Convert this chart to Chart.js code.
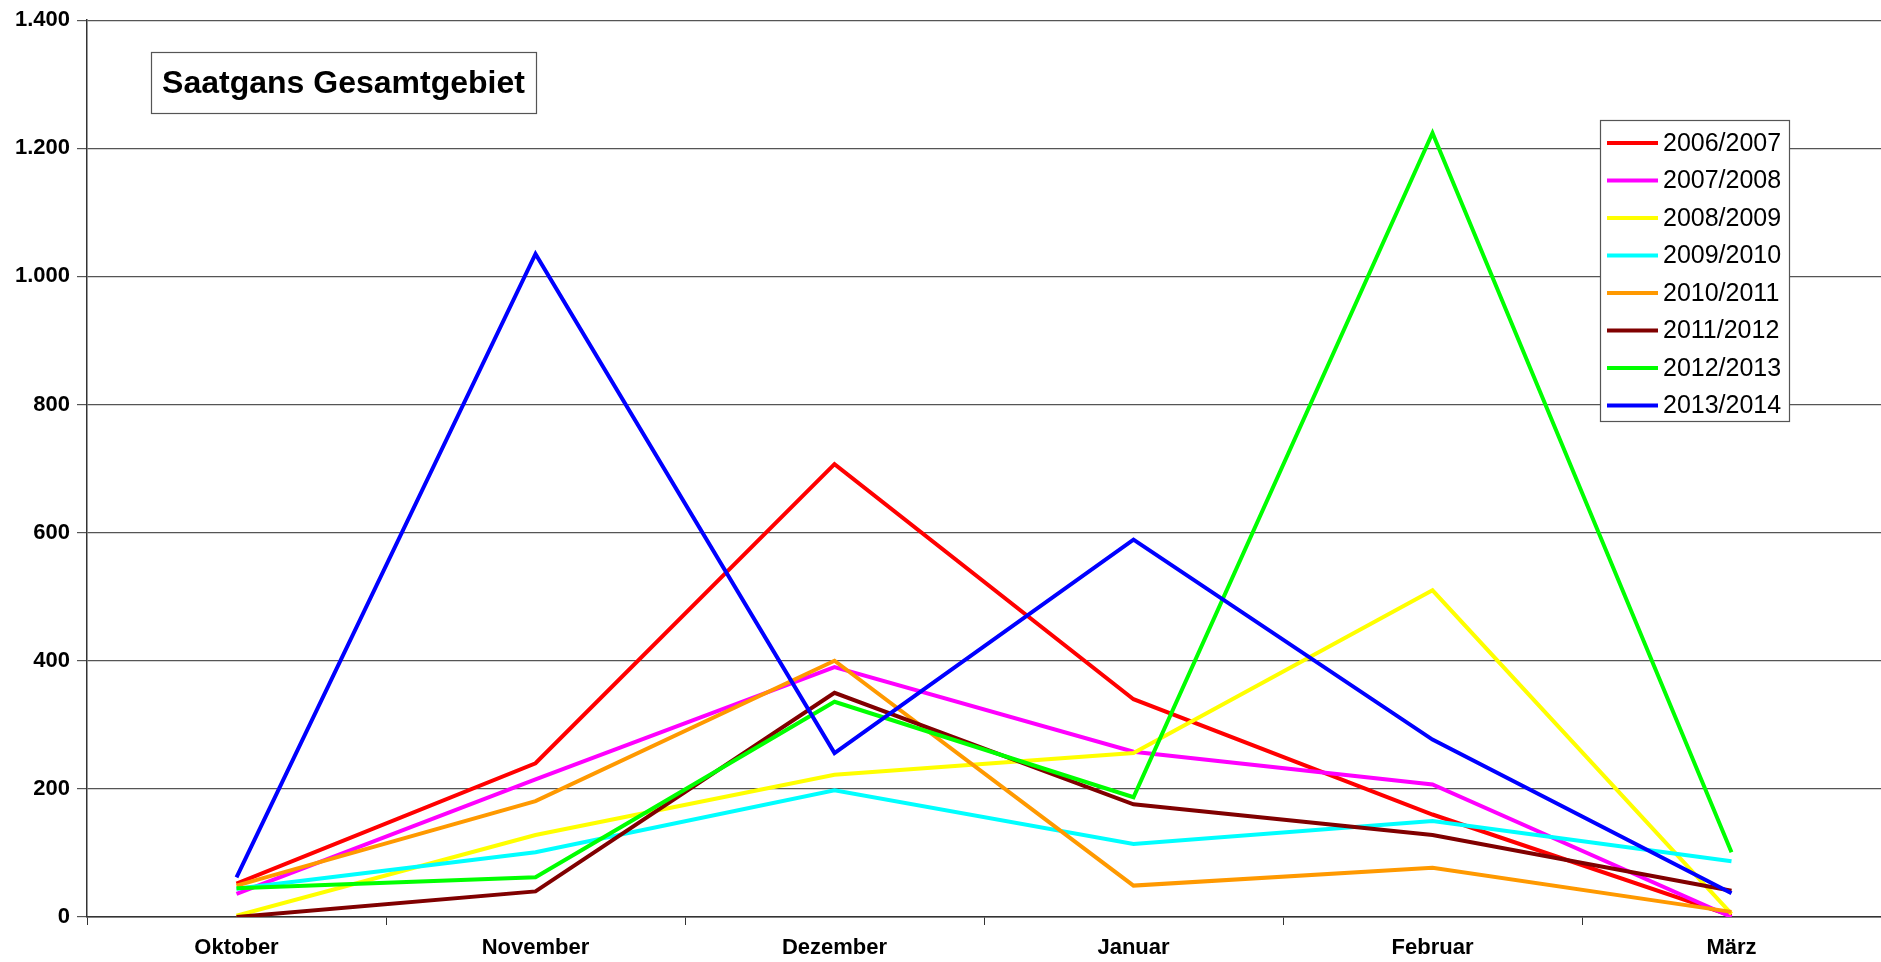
<!DOCTYPE html>
<html>
<head>
<meta charset="utf-8">
<title>Saatgans Gesamtgebiet</title>
<script src="https://cdn.jsdelivr.net/npm/chart.js@4/dist/chart.umd.min.js"></script>
<style>
    html, body { margin: 0; padding: 0; background: #fff; overflow: hidden; }
    canvas { display: block; }
</style>
</head>
<body>
<canvas id="chart" width="1881" height="962"></canvas>
<script>
const months = ['Oktober', 'November', 'Dezember', 'Januar', 'Februar', 'März'];
const seasons = ['2006/2007', '2007/2008', '2008/2009', '2009/2010', '2010/2011', '2011/2012', '2012/2013', '2013/2014'];

const s2006 = [52, 240, 707, 340, 160, 2];
const s2007 = [36, 215, 390, 258, 207, 0];
const s2008 = [2, 128, 222, 256, 510, 5];
const s2009 = [44, 101, 198, 114, 150, 87];
const s2010 = [49, 181, 400, 49, 77, 8];
const s2011 = [0, 40, 350, 176, 128, 41];
const s2012 = [45, 62, 336, 187, 1224, 101];
const s2013 = [62, 1035, 256, 589, 277, 37];

const yTicks = [0, 200, 400, 600, 800, 1000, 1200, 1400];

const seriesValues = [s2006, s2007, s2008, s2009, s2010, s2011, s2012, s2013];
const colors = ['#ff0000', '#ff00ff', '#ffff00', '#00ffff', '#ff9900', '#800000', '#00ff00', '#0000ff'];
const FONT = '"Liberation Sans", Arial, Helvetica, sans-serif';

function fmt(v) {
    return String(v).replace(/\B(?=(\d{3})+(?!\d))/g, '.');
}

// title box + legend box, both drawn on top of the plot
const boxes = {
    id: 'boxes',
    afterDraw(chart) {
        const ctx = chart.ctx;
        ctx.save();

        // title
        ctx.fillStyle = '#fff';
        ctx.fillRect(151, 52, 385, 61);
        ctx.strokeStyle = '#555';
        ctx.lineWidth = 1.2;
        ctx.strokeRect(151.5, 52.5, 385, 61);
        ctx.fillStyle = '#000';
        ctx.font = 'bold 32px ' + FONT;
        ctx.textAlign = 'center';
        ctx.textBaseline = 'middle';
        ctx.fillText('Saatgans Gesamtgebiet', 343.5, 84);

        // legend
        ctx.fillStyle = '#fff';
        ctx.fillRect(1600, 120, 189, 301);
        ctx.strokeRect(1600.5, 120.5, 189, 301);
        ctx.font = '25px ' + FONT;
        ctx.textAlign = 'left';
        chart.data.datasets.forEach((ds, i) => {
            const y = 143 + i * 37.5;
            ctx.strokeStyle = ds.borderColor;
            ctx.lineWidth = 4;
            ctx.beginPath();
            ctx.moveTo(1607, y);
            ctx.lineTo(1658, y);
            ctx.stroke();
            ctx.fillStyle = '#000';
            ctx.fillText(ds.label, 1663, y + 1);
        });
        ctx.restore();
    }
};

const config = {
    type: 'line',
    data: {
        labels: months,
        datasets: seasons.map((label, i) => ({
            label: label,
            data: seriesValues[i],
            borderColor: colors[i],
            backgroundColor: colors[i],
            borderWidth: 4,
            pointRadius: 0,
            tension: 0,
            fill: false,
            order: seasons.length - i,
        })),
    },
    plugins: [boxes],
    options: {
        responsive: false,
        animation: false,
        layout: {
            padding: { top: 18, right: 0, bottom: 0, left: 0 }
        },
        plugins: {
            legend: { display: false },
            tooltip: { enabled: false },
        },
        scales: {
            x: {
                offset: true,
                afterFit: (scale) => { scale.height = 45; },
                grid: {
                    offset: true,
                    drawOnChartArea: false,
                    tickLength: 8,
                    color: '#333',
                },
                border: { color: '#333', width: 1.5 },
                ticks: {
                    color: '#000',
                    padding: 10,
                    maxRotation: 0,
                    font: { family: FONT, size: 22, weight: 'bold' },
                },
            },
            y: {
                min: 0,
                max: 1400,
                afterFit: (scale) => { scale.width = 87; },
                afterBuildTicks: (scale) => { scale.ticks = yTicks.map(v => ({ value: v })); },
                grid: {
                    color: '#555',
                    lineWidth: 1.2,
                    tickLength: 10,
                },
                border: { color: '#333', width: 1.5 },
                ticks: {
                    color: '#000',
                    padding: 7,
                    callback: (v) => fmt(v),
                    font: { family: FONT, size: 22, weight: 'bold' },
                },
            },
        },
    },
};

const myChart = new Chart(document.getElementById('chart').getContext('2d'), config);
</script>
</body>
</html>
